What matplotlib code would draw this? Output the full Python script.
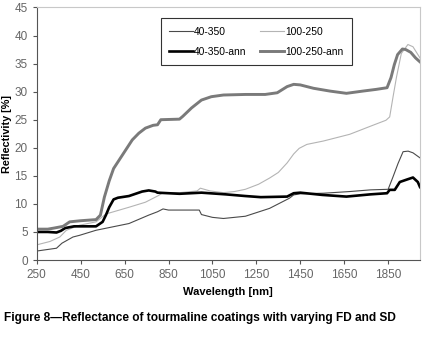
import matplotlib.pyplot as plt

plt.rcParams["font.family"] = ["Liberation Sans", "DejaVu Sans"]

# wavelength [nm] and reflectivity [%]
wl_4035 = [250, 340, 365, 415, 445, 520, 670, 760, 800, 825, 850, 990, 1000, 1050,
           1100, 1200, 1310, 1370, 1400, 1420, 1450, 1555, 1675, 1770, 1850, 1872,
           1895, 1918, 1941, 1963, 1995]
r_4035 = [1.6, 2.1, 3.0, 4.1, 4.4, 5.3, 6.5, 8.0, 8.6, 9.1, 8.9, 8.9, 8.1, 7.6,
          7.4, 7.8, 9.2, 10.4, 11.0, 11.6, 11.8, 11.9, 12.2, 12.5, 12.6, 14.8,
          17.2, 19.3, 19.4, 19.1, 18.2]

wl_10025 = [250, 310, 355, 385, 445, 520, 565, 670, 745, 805, 825, 900, 980, 995,
            1040, 1100, 1150, 1200, 1260, 1310, 1350, 1390, 1420, 1445, 1480, 1555,
            1675, 1780, 1840, 1857, 1872, 1888, 1910, 1940, 1963, 1995]
r_10025 = [2.7, 3.3, 4.1, 5.3, 6.2, 6.8, 8.2, 9.4, 10.3, 11.5, 12.0, 12.0, 12.3, 12.8,
           12.3, 12.0, 12.2, 12.6, 13.5, 14.6, 15.6, 17.3, 18.9, 19.9, 20.6, 21.2,
           22.4, 24.0, 24.9, 25.5, 29.0, 32.6, 36.8, 38.4, 38.0, 36.0]

wl_4035a = [250, 300, 340, 360, 380, 420, 520, 550, 565, 580, 600, 620, 670, 730,
            760, 790, 800, 900, 1000, 1110, 1200, 1270, 1390, 1420, 1450, 1550, 1660,
            1770, 1845, 1857, 1880, 1903, 1940, 1963, 1985, 1995]
r_4035a = [5.0, 5.0, 4.9, 5.2, 5.7, 6.0, 6.0, 6.8, 8.0, 9.4, 10.8, 11.1, 11.4, 12.2,
           12.4, 12.2, 12.0, 11.8, 12.0, 11.7, 11.4, 11.2, 11.3, 11.9, 12.0, 11.6, 11.3,
           11.7, 11.9, 12.5, 12.5, 13.9, 14.4, 14.7, 13.9, 13.0]

wl_10025a = [250, 300, 330, 370, 400, 450, 520, 540, 558, 580, 600, 625, 655, 685,
             715, 745, 780, 800, 815, 900, 915, 955, 1000, 1045, 1100, 1200, 1290,
             1345, 1390, 1420, 1450, 1510, 1585, 1660, 1735, 1795, 1845, 1863, 1878,
             1893, 1915, 1930, 1953, 1975, 1995]
r_10025a = [5.5, 5.5, 5.7, 6.0, 6.8, 7.0, 7.2, 8.0, 11.2, 14.1, 16.3, 17.8, 19.6, 21.4,
            22.6, 23.5, 24.0, 24.1, 25.0, 25.1, 25.6, 27.1, 28.5, 29.1, 29.4, 29.5, 29.5,
            29.8, 30.9, 31.3, 31.2, 30.6, 30.1, 29.7, 30.1, 30.4, 30.7, 32.5, 34.8,
            36.6, 37.6, 37.5, 37.0, 36.0, 35.3]

xticks = list(range(250, 1851, 200))
yticks = list(range(0, 46, 5))

fig = plt.figure(figsize=(4.27, 3.39), dpi=100)
ax = fig.add_axes([0.086, 0.233, 0.8976, 0.745])

l1, = ax.plot(wl_4035, r_4035, color="#4a4a4a", lw=0.8, label="40-350")
l2, = ax.plot(wl_10025, r_10025, color="#b4b4b4", lw=0.8, label="100-250")
l3, = ax.plot(wl_4035a, r_4035a, color="black", lw=1.9, label="40-350-ann")
l4, = ax.plot(wl_10025a, r_10025a, color="#7a7a7a", lw=2.1, label="100-250-ann")

ax.set_xlim(250, 1995)
ax.set_ylim(0, 45)
ax.set_xticks(xticks)
ax.set_yticks(yticks)
ax.tick_params(labelsize=8.5, colors="#555555", labelcolor="#666666", length=3, width=0.8)
for s in ["left", "bottom"]:
    ax.spines[s].set_color("#555555")
for s in ["top", "right"]:
    ax.spines[s].set_color("#c8c8c8")

ax.set_xlabel("Wavelength [nm]", fontsize=8, fontweight="bold", labelpad=4)
ax.set_ylabel("Reflectivity [%]", fontsize=7.8, fontweight="bold", labelpad=2)

# legend filled column by column, so order handles to read row-wise like the original
leg = ax.legend([l1, l3, l2, l4], ["40-350", "40-350-ann", "100-250", "100-250-ann"],
                ncol=2, loc="upper left", bbox_to_anchor=(0.31, 0.977),
                fontsize=7.4, frameon=True, fancybox=False, handlelength=2.3,
                columnspacing=1.4, borderpad=0.8, labelspacing=1.0, handletextpad=0.1)
leg.get_frame().set_edgecolor("black")
leg.get_frame().set_linewidth(0.8)

fig.text(0.01, 0.062, "Figure 8\u2014Reflectance of tourmaline coatings with varying FD and SD",
         fontsize=8.6, fontweight="bold", va="center")

fig.savefig("out.png", dpi=100)
